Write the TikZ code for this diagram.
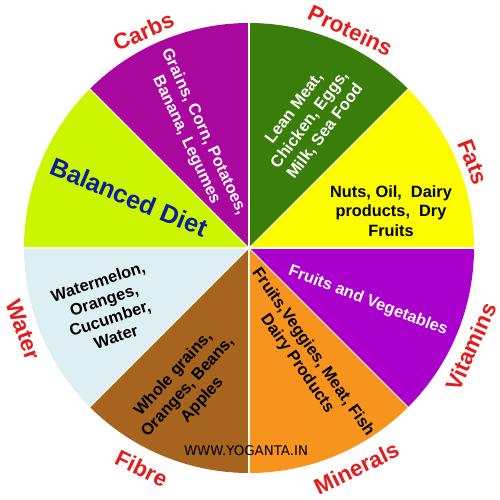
\documentclass[tikz,border=0pt]{standalone}
\usepackage{fontspec}
\setmainfont{Liberation Sans}
\newfontfamily\webfont{DejaVu Sans}

\definecolor{carbcol}{HTML}{A8089E}
\definecolor{protcol}{HTML}{3A7D0A}
\definecolor{fatcol}{HTML}{FCFC00}
\definecolor{vitcol}{HTML}{AA00CC}
\definecolor{mincol}{HTML}{F7941D}
\definecolor{fibcol}{HTML}{A6641E}
\definecolor{watcol}{HTML}{DDEFF2}
\definecolor{dietcol}{HTML}{CCF500}
\definecolor{labelred}{HTML}{E31B1B}
\definecolor{dietblue}{HTML}{0A1E9F}

\tikzset{
  group/.style={text=labelred, inner sep=0pt,
                font=\fontsize{12.8}{15}\selectfont\bfseries},
  food/.style={align=center, inner sep=0pt,
               font=\fontsize{9.3}{11}\selectfont\bfseries},
  divider/.style={draw=white!90!yellow, line width=0.6pt}
}

\begin{document}
\begin{tikzpicture}[x=0.2mm,y=0.2mm]
      \useasboundingbox (-249,-252) rectangle (251,248);

      % slices
      \foreach \a/\c in {0/fatcol, 45/protcol, 90/carbcol, 135/dietcol,
                         180/watcol, 225/fibcol, 270/mincol, 315/vitcol}
        \fill[\c] (0,0) -- (\a:225) arc[start angle=\a, end angle=\a+45,
                                         radius=225] -- cycle;
      \coordinate (O) at (0,0);
      \foreach \a in {0,45,...,315}
        \draw[divider] (O) -- (\a:225);

      % group names
      \node[group, rotate=24]   (carbs)    at (116:241)  {Carbs};
      \node[group, rotate=-25]  (proteins) at (65:240)   {Proteins};
      \node[group, rotate=-69]  (fats)     at (21:240)   {Fats};
      \node[group, rotate=66]   (vitamins) at (-24:243)  {Vitamins};
      \node[group, rotate=26]   (minerals) at (-64:245)  {Minerals};
      \node[group, rotate=-26]  (fibre)    at (-116:245) {Fibre};
      \node[group, rotate=-70]  (water)    at (-160:240) {Water};

      % foods
      \node[food, text=white, rotate=-65] (carbsfood) at (-54,112)
            {Grains, Corn, Potatoes,\\Banana, Legumes};
      \node[food, text=white, rotate=53] (protfood) at (61,128)
            {Lean Meat,\\Chicken, Eggs,\\Milk, Sea Food};
      \node[food] (fatfood) at (142,37)
            {Nuts, Oil,\ \ Dairy\\products,\ \ Dry\\Fruits};
      \node[food, text=white, rotate=-21] (vitfood) at (119,-53)
            {Fruits and Vegetables};
      \node[food, rotate=-55] (minfood) at (56,-110)
            {Fruits,Veggies, Meat, Fish\\Dairy Products};
      \node[food, rotate=48] (fibfood) at (-61,-139)
            {Whole grains,\\Oranges, Beans,\\Apples};
      \node[food, rotate=18] (watfood) at (-142,-61)
            {Watermelon,\\Oranges,\\Cucumber,\\Water};

      \node[text=dietblue, rotate=-22.5, inner sep=0pt,
            font=\fontsize{14.4}{16}\selectfont\bfseries] (diet) at (-120,51)
            {Balanced Diet};
      \node[inner sep=0pt, font=\webfont\fontsize{7.6}{9}\selectfont]
            (site) at (-3,-203) {WWW.YOGANTA.IN};
\end{tikzpicture}
\end{document}
